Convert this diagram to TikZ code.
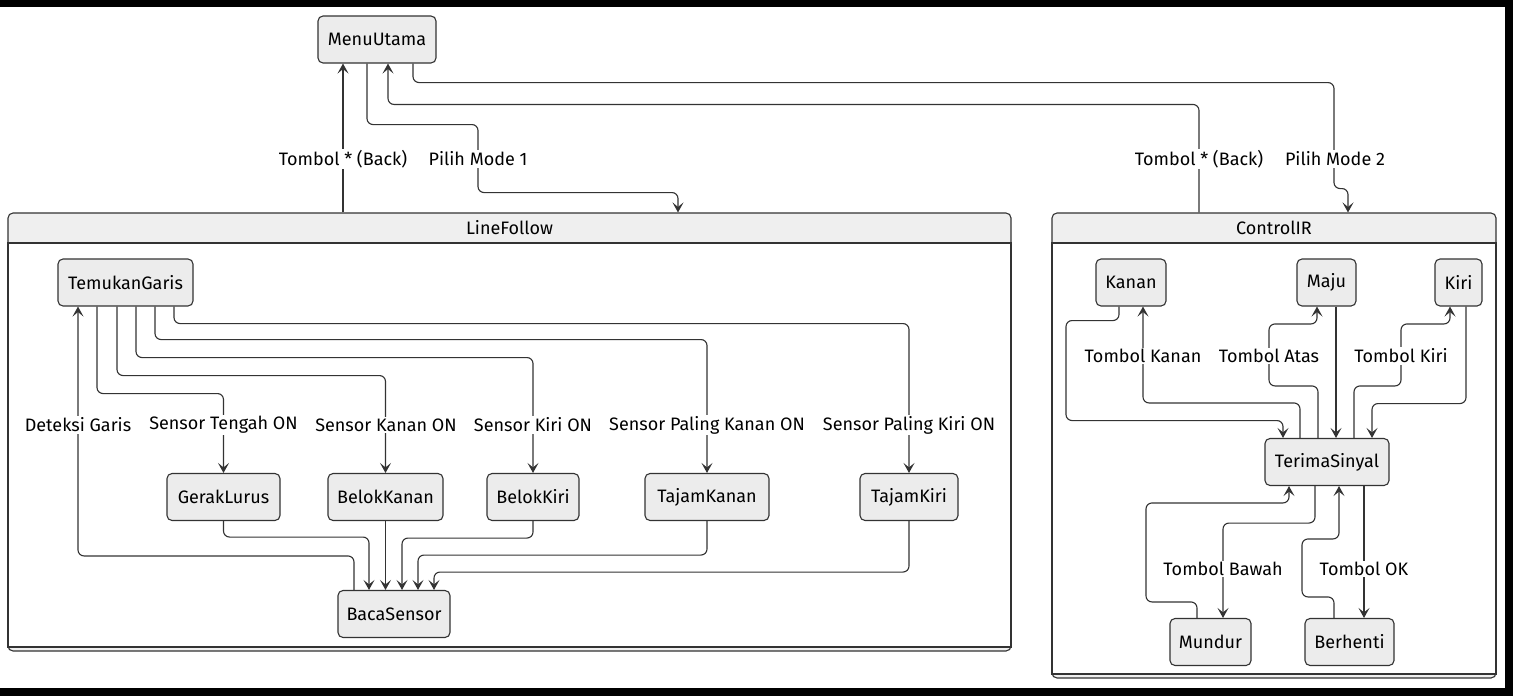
\documentclass[tikz,border=0pt]{standalone}
\usepackage{fontspec}
\setmainfont{Fira Sans}
\usetikzlibrary{arrows.meta,calc}
\definecolor{ln}{HTML}{333333}
\definecolor{nf}{HTML}{ECECEC}
\definecolor{cf}{HTML}{EFEFEF}
\begin{document}
\begin{tikzpicture}[x=1pt,y=-1pt,
  txt/.style={font=\fontsize{18}{21}\selectfont},
  st/.style={txt, draw=ln, fill=nf, line width=1.1pt, rounded corners=5pt, minimum height=47pt, inner sep=0pt},
  edge/.style={draw=ln, line width=1.1pt, rounded corners=6pt, -{Stealth[length=10pt,width=11pt,inset=4.5pt]}},
  lbl/.style={txt, fill=white, inner sep=1.5pt},
  cluster/.style={draw=ln, fill=cf, line width=1.1pt, rounded corners=5pt, inner sep=0pt},
  ctitle/.style={txt}
]
\useasboundingbox (0,0) rectangle (1513,696);
\fill[white] (0,0) rectangle (1513,696);

% clusters
\node[cluster, minimum width=1003pt, minimum height=438pt] (LF) at (509.5,432) {};
\draw[draw=ln, fill=white, line width=1.1pt] (8,243) rectangle (1011,647);
\node[ctitle] (LFt) at (509.5,228) {LineFollow};
\node[cluster, minimum width=444pt, minimum height=465pt] (CI) at (1274,445.5) {};
\draw[draw=ln, fill=white, line width=1.1pt] (1052,243) rectangle (1496,674);
\node[ctitle] (CIt) at (1274,228) {ControlIR};

% nodes
\node[st, minimum width=118pt] (MU) at (377,39.5) {MenuUtama};
\node[st, minimum width=135pt] (TG) at (125.5,282.5) {TemukanGaris};
\node[st, minimum width=113pt] (GL) at (223.5,497) {GerakLurus};
\node[st, minimum width=115pt] (BK) at (385.5,497) {BelokKanan};
\node[st, minimum width=92pt] (BKi) at (533,497) {BelokKiri};
\node[st, minimum width=124pt] (TK) at (707,497) {TajamKanan};
\node[st, minimum width=98pt] (TKi) at (909,497) {TajamKiri};
\node[st, minimum width=112pt] (BS) at (394,614) {BacaSensor};

\node[st, minimum width=70pt] (KA) at (1131,282.5) {Kanan};
\node[st, minimum width=59pt] (MA) at (1326.5,282.5) {Maju};
\node[st, minimum width=47pt] (KI) at (1458.5,282.5) {Kiri};
\node[st, minimum width=124pt] (TS) at (1327,462) {TerimaSinyal};
\node[st, minimum width=81pt] (MD) at (1210.5,642) {Mundur};
\node[st, minimum width=89pt] (BH) at (1349.5,642) {Berhenti};

% top edges
\draw[edge] ([xshift=-166.5pt]LF.north) -- ([xshift=-34pt]MU.south);
\draw[edge] ([xshift=-10pt]MU.south) -- ++(0,61) -- ++(111,0) -- ++(0,68) -| ([xshift=168.5pt]LF.north);
\draw[edge] ([xshift=-75pt]CI.north) -- ++(0,-108) -| ([xshift=11pt]MU.south);
\draw[edge] ([xshift=36pt]MU.south) -- ++(0,19) -- ++(921,0) -- ++(0,106) -| ([xshift=74pt]CI.north);

% LineFollow edges
\draw[edge] ([xshift=-28.5pt]TG.south) -- ++(0,87) -| (GL.north);
\draw[edge] ([xshift=-8.5pt]TG.south) -- ++(0,69) -| (BK.north);
\draw[edge] ([xshift=10.5pt]TG.south) -- ++(0,51) -| (BKi.north);
\draw[edge] ([xshift=29.5pt]TG.south) -- ++(0,33) -| (TK.north);
\draw[edge] ([xshift=48.5pt]TG.south) -- ++(0,17) -| (TKi.north);
\draw[edge] ([xshift=-40pt]BS.north) -- ++(0,-34) -| ([xshift=-47.5pt]TG.south);
\draw[edge] (GL.south) -- ++(0,16) -| ([xshift=-25pt]BS.north);
\draw[edge] (BK.south) -- (BK.south |- BS.north);
\draw[edge] (BKi.south) -- ++(0,17) -| ([xshift=8pt]BS.north);
\draw[edge] (TK.south) -- ++(0,34) -| ([xshift=24pt]BS.north);
\draw[edge] (TKi.south) -- ++(0,51) -| ([xshift=40pt]BS.north);

% ControlIR edges
\draw[edge] ([xshift=-12pt]KA.south) -- ++(0,14) -- ++(-53,0) -- ++(0,100) -| ([xshift=-44pt]TS.north);
\draw[edge] ([xshift=-27pt]TS.north) -- ++(0,-35) -| ([xshift=12pt]KA.south);
\draw[edge] ([xshift=-9pt]TS.north) -- ++(0,-52) -- ++(-49,0) -- ++(0,-62) -| ([xshift=-9.5pt]MA.south);
\draw[edge] ([xshift=9.5pt]MA.south) -- ([xshift=9.5pt]MA.south |- TS.north);
\draw[edge] ([xshift=27pt]TS.north) -- ++(0,-52) -- ++(47,0) -- ++(0,-62) -| ([xshift=-8.5pt]KI.south);
\draw[edge] ([xshift=7.5pt]KI.south) -- ++(0,97) -| ([xshift=45pt]TS.north);
\draw[edge] ([xshift=-13.5pt]MD.north) -- ++(0,-16) -- ++(-51,0) -- ++(0,-99) -| ([xshift=-38pt]TS.south);
\draw[edge] ([xshift=-12pt]TS.south) -- ++(0,37) -| ([xshift=12.5pt]MD.north);
\draw[edge] ([xshift=-15.5pt]BH.north) -- ++(0,-21) -- ++(-32,0) -- ++(0,-58) -| ([xshift=12pt]TS.south);
\draw[edge] ([xshift=14.5pt]BH.north |- TS.south) -- ([xshift=14.5pt]BH.north);

% labels
\node[lbl] (l1) at (343,159) {Tombol * (Back)};
\node[lbl] (l2) at (478,159) {Pilih Mode 1};
\node[lbl] (l3) at (1199,159) {Tombol * (Back)};
\node[lbl] (l4) at (1335,159) {Pilih Mode 2};
\node[lbl] (l5) at (78,425) {Deteksi Garis};
\node[lbl] (l6) at (223.5,425) {Sensor Tengah ON};
\node[lbl] (l7) at (386,425) {Sensor Kanan ON};
\node[lbl] (l8) at (533,425) {Sensor Kiri ON};
\node[lbl] (l9) at (707,425) {Sensor Paling Kanan ON};
\node[lbl] (l10) at (909,425) {Sensor Paling Kiri ON};
\node[lbl] (l11) at (1143,356) {Tombol Kanan};
\node[lbl] (l12) at (1269,356) {Tombol Atas};
\node[lbl] (l13) at (1401,356) {Tombol Kiri};
\node[lbl] (l14) at (1223,569) {Tombol Bawah};
\node[lbl] (l15) at (1364,569) {Tombol OK};

% black frame
\fill[black] (0,0) rectangle (1513,7);
\fill[black] (1505,0) rectangle (1513,696);
\fill[black] (0,688) rectangle (1513,696);
\end{tikzpicture}
\end{document}
